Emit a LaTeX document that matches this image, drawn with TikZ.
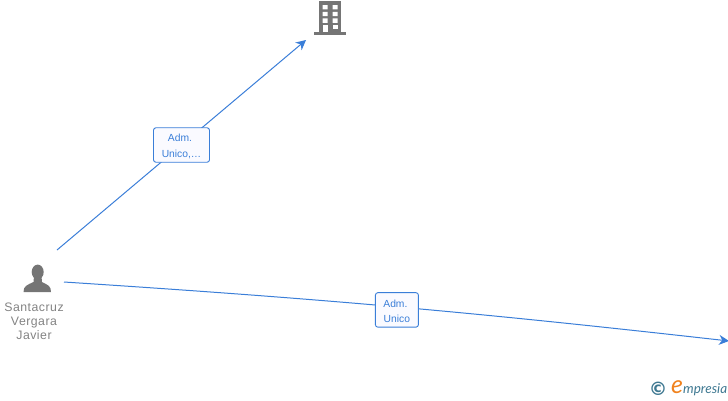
\documentclass[tikz,border=0pt]{standalone}
\usepackage{fontspec}
\setmainfont{Liberation Sans}
\newfontfamily\logofont{Lato}
\newfontfamily\symfont{DejaVu Sans}
\newfontfamily\namefont[LetterSpace=4]{Liberation Sans}
\definecolor{emblue}{RGB}{58,126,216}
\definecolor{emgray}{RGB}{117,117,117}
\definecolor{emteal}{RGB}{62,120,145}
\definecolor{emorange}{RGB}{240,130,30}
\usetikzlibrary{arrows.meta,positioning}

\begin{document}
\begin{tikzpicture}[
  x=1pt,y=-1pt,
  iconbox/.style={inner sep=0pt,outer sep=0pt},
  rolebox/.style={draw=emblue,fill=blue!2,rounded corners=2.5pt,line width=0.9pt,text=emblue,
                  font=\fontsize{10.3}{15.5}\selectfont,align=center,inner sep=0pt,minimum height=34.5pt,
                  text height=26pt},
  link/.style={emblue,line width=1pt,-{Stealth[length=10pt,width=10pt]}},
]
  \useasboundingbox (0,0) rectangle (728,400);

  % Icons
  \node[iconbox,minimum width=40pt,minimum height=58pt] (person) at (37,279) {};
  \node[iconbox,minimum width=48pt,minimum height=44pt] (building) at (330,18) {};
  \coordinate (offpage) at (729,341);

  % Person
  \fill[emgray] (37.7,272) ellipse (6 and 7.4);
  \fill[emgray] (23.5,292) .. controls (23.5,286) and (27,285) .. (33.5,282) -- (34,276)
    -- (41.5,276) -- (42,282) .. controls (48,285) and (51,286) .. (51,292) -- cycle;

  % Building
  \fill[emgray] (319.3,1) rectangle (340.7,32.4);
  \fill[emgray] (314.3,32.4) rectangle (345.7,34.6);
  \foreach \wy in {5,11.8,18.4}
    \fill[white] (322.7,\wy) rectangle +(5,4.4) (332.7,\wy) rectangle +(5,4.4);
  \fill[white] (332.7,25) rectangle +(5,4.4);
  \fill[white] (322.7,25) rectangle (327.7,32.4);

  % Name
  \node[text=emgray!90,font=\namefont\fontsize{12.3}{13.9}\selectfont,align=center,inner sep=0pt] (name) at (34,321.5)
    {Santacruz\\Vergara\\Javier};

  % Links
  \draw[link] (person.north east) -- node[rolebox,minimum width=56pt] (role1) {Adm.\hspace*{3pt}\\Unico,\dots} (building.south west);
  \draw[link] ([xshift=7pt,yshift=-3pt]person.east) to[bend left=1.35]
    node[rolebox,minimum width=43pt,yshift=-3pt] (role2) {Adm.\hspace*{3pt}\\Unico} (offpage);

  % Logo
  \node[text=emteal,font=\symfont\bfseries\fontsize{18.5}{18}\selectfont,inner sep=0pt] (copyr) at (658,389) {\symbol{"00A9}};
  \node[anchor=base west,text=emteal,font=\logofont\itshape\fontsize{13.5}{14}\selectfont,inner sep=0pt] (brand) at (671,393.5)
    {{\fontsize{25}{25}\selectfont\textcolor{emorange}{e}}mpresia};
\end{tikzpicture}
\end{document}
